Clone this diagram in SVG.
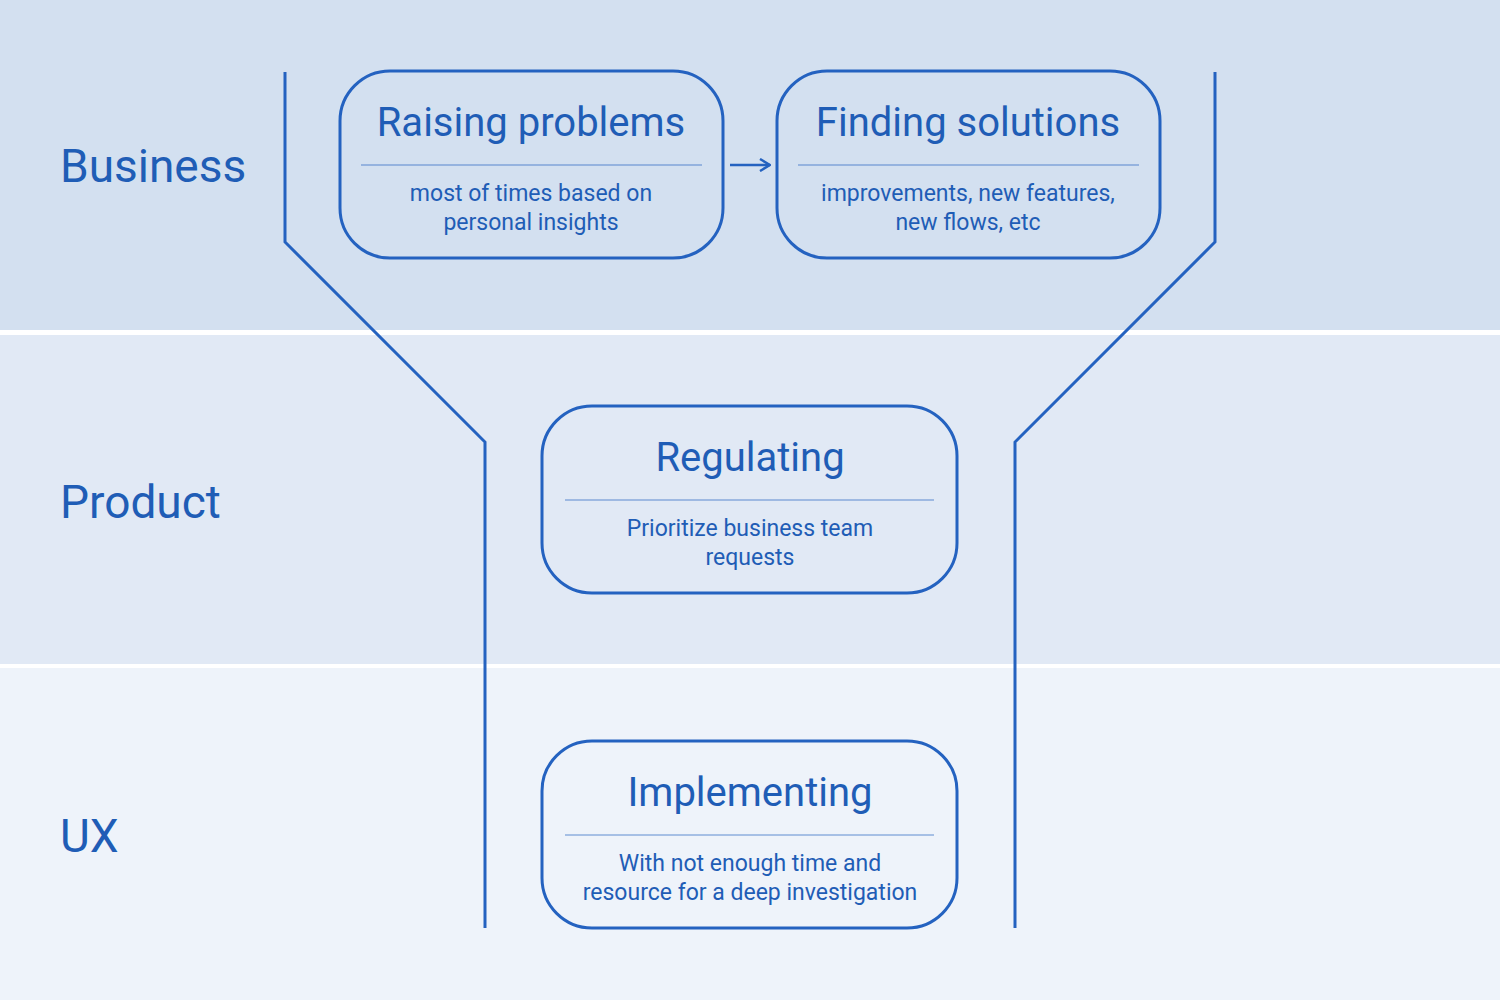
<svg xmlns="http://www.w3.org/2000/svg" width="1500" height="1000" viewBox="0 0 1500 1000">
<defs>
<style>
.box{fill:none;stroke:#2462c0;stroke-width:3}
.div{stroke:#2462c0;stroke-width:1;opacity:.7}
.t{font-family:Roboto,"Liberation Sans",sans-serif;fill:#1f5db6;text-anchor:middle}
.h{font-size:40px}
.s{font-size:23px}
.lane{font-family:Roboto,"Liberation Sans",sans-serif;fill:#1f5db6;font-size:46px}
.fun{fill:none;stroke:#2462c0;stroke-width:3}
</style>
<marker id="ar" markerWidth="12" markerHeight="14" refX="11" refY="7" orient="auto" markerUnits="userSpaceOnUse">
<path d="M1 1 L11 7 L1 13" fill="none" stroke="#2462c0" stroke-width="2.5"/>
</marker>
</defs>
<rect width="1500" height="1000" fill="#fff"/>
<rect x="0" y="0" width="1500" height="330" fill="#d3e0f0"/>
<rect x="0" y="335" width="1500" height="329" fill="#e1e9f5"/>
<rect x="0" y="668" width="1500" height="332" fill="#eef3fa"/>
<text class="lane" x="60" y="182">Business</text>
<text class="lane" x="60" y="518">Product</text>
<text class="lane" x="60" y="852">UX</text>
<g id="connectors">
<path class="fun" d="M285 72 V242 L485 442 V928"/>
<path class="fun" d="M1215 72 V242 L1015 442 V928"/>
<line x1="730" y1="165" x2="770" y2="165" stroke="#2462c0" stroke-width="2.5" marker-end="url(#ar)"/>
</g>
<g id="raising">
<rect class="box" x="340" y="71" width="383" height="187" rx="50"/>
<line class="div" x1="361" y1="165" x2="702" y2="165"/>
<text class="t h" x="531" y="136">Raising problems</text>
<text class="t s" x="531" y="201">most of times based on</text>
<text class="t s" x="531" y="230">personal insights</text>
</g>
<g id="finding">
<rect class="box" x="777" y="71" width="383" height="187" rx="50"/>
<line class="div" x1="798" y1="165" x2="1139" y2="165"/>
<text class="t h" x="968" y="136">Finding solutions</text>
<text class="t s" x="968" y="201">improvements, new features,</text>
<text class="t s" x="968" y="230">new flows, etc</text>
</g>
<g id="regulating">
<rect class="box" x="542" y="406" width="415" height="187" rx="50"/>
<line class="div" x1="565" y1="500" x2="934" y2="500"/>
<text class="t h" x="750" y="471">Regulating</text>
<text class="t s" x="750" y="536">Prioritize business team</text>
<text class="t s" x="750" y="565">requests</text>
</g>
<g id="implementing">
<rect class="box" x="542" y="741" width="415" height="187" rx="50"/>
<line class="div" x1="565" y1="835" x2="934" y2="835"/>
<text class="t h" x="750" y="806">Implementing</text>
<text class="t s" x="750" y="871">With not enough time and</text>
<text class="t s" x="750" y="900">resource for a deep investigation</text>
</g>
</svg>
